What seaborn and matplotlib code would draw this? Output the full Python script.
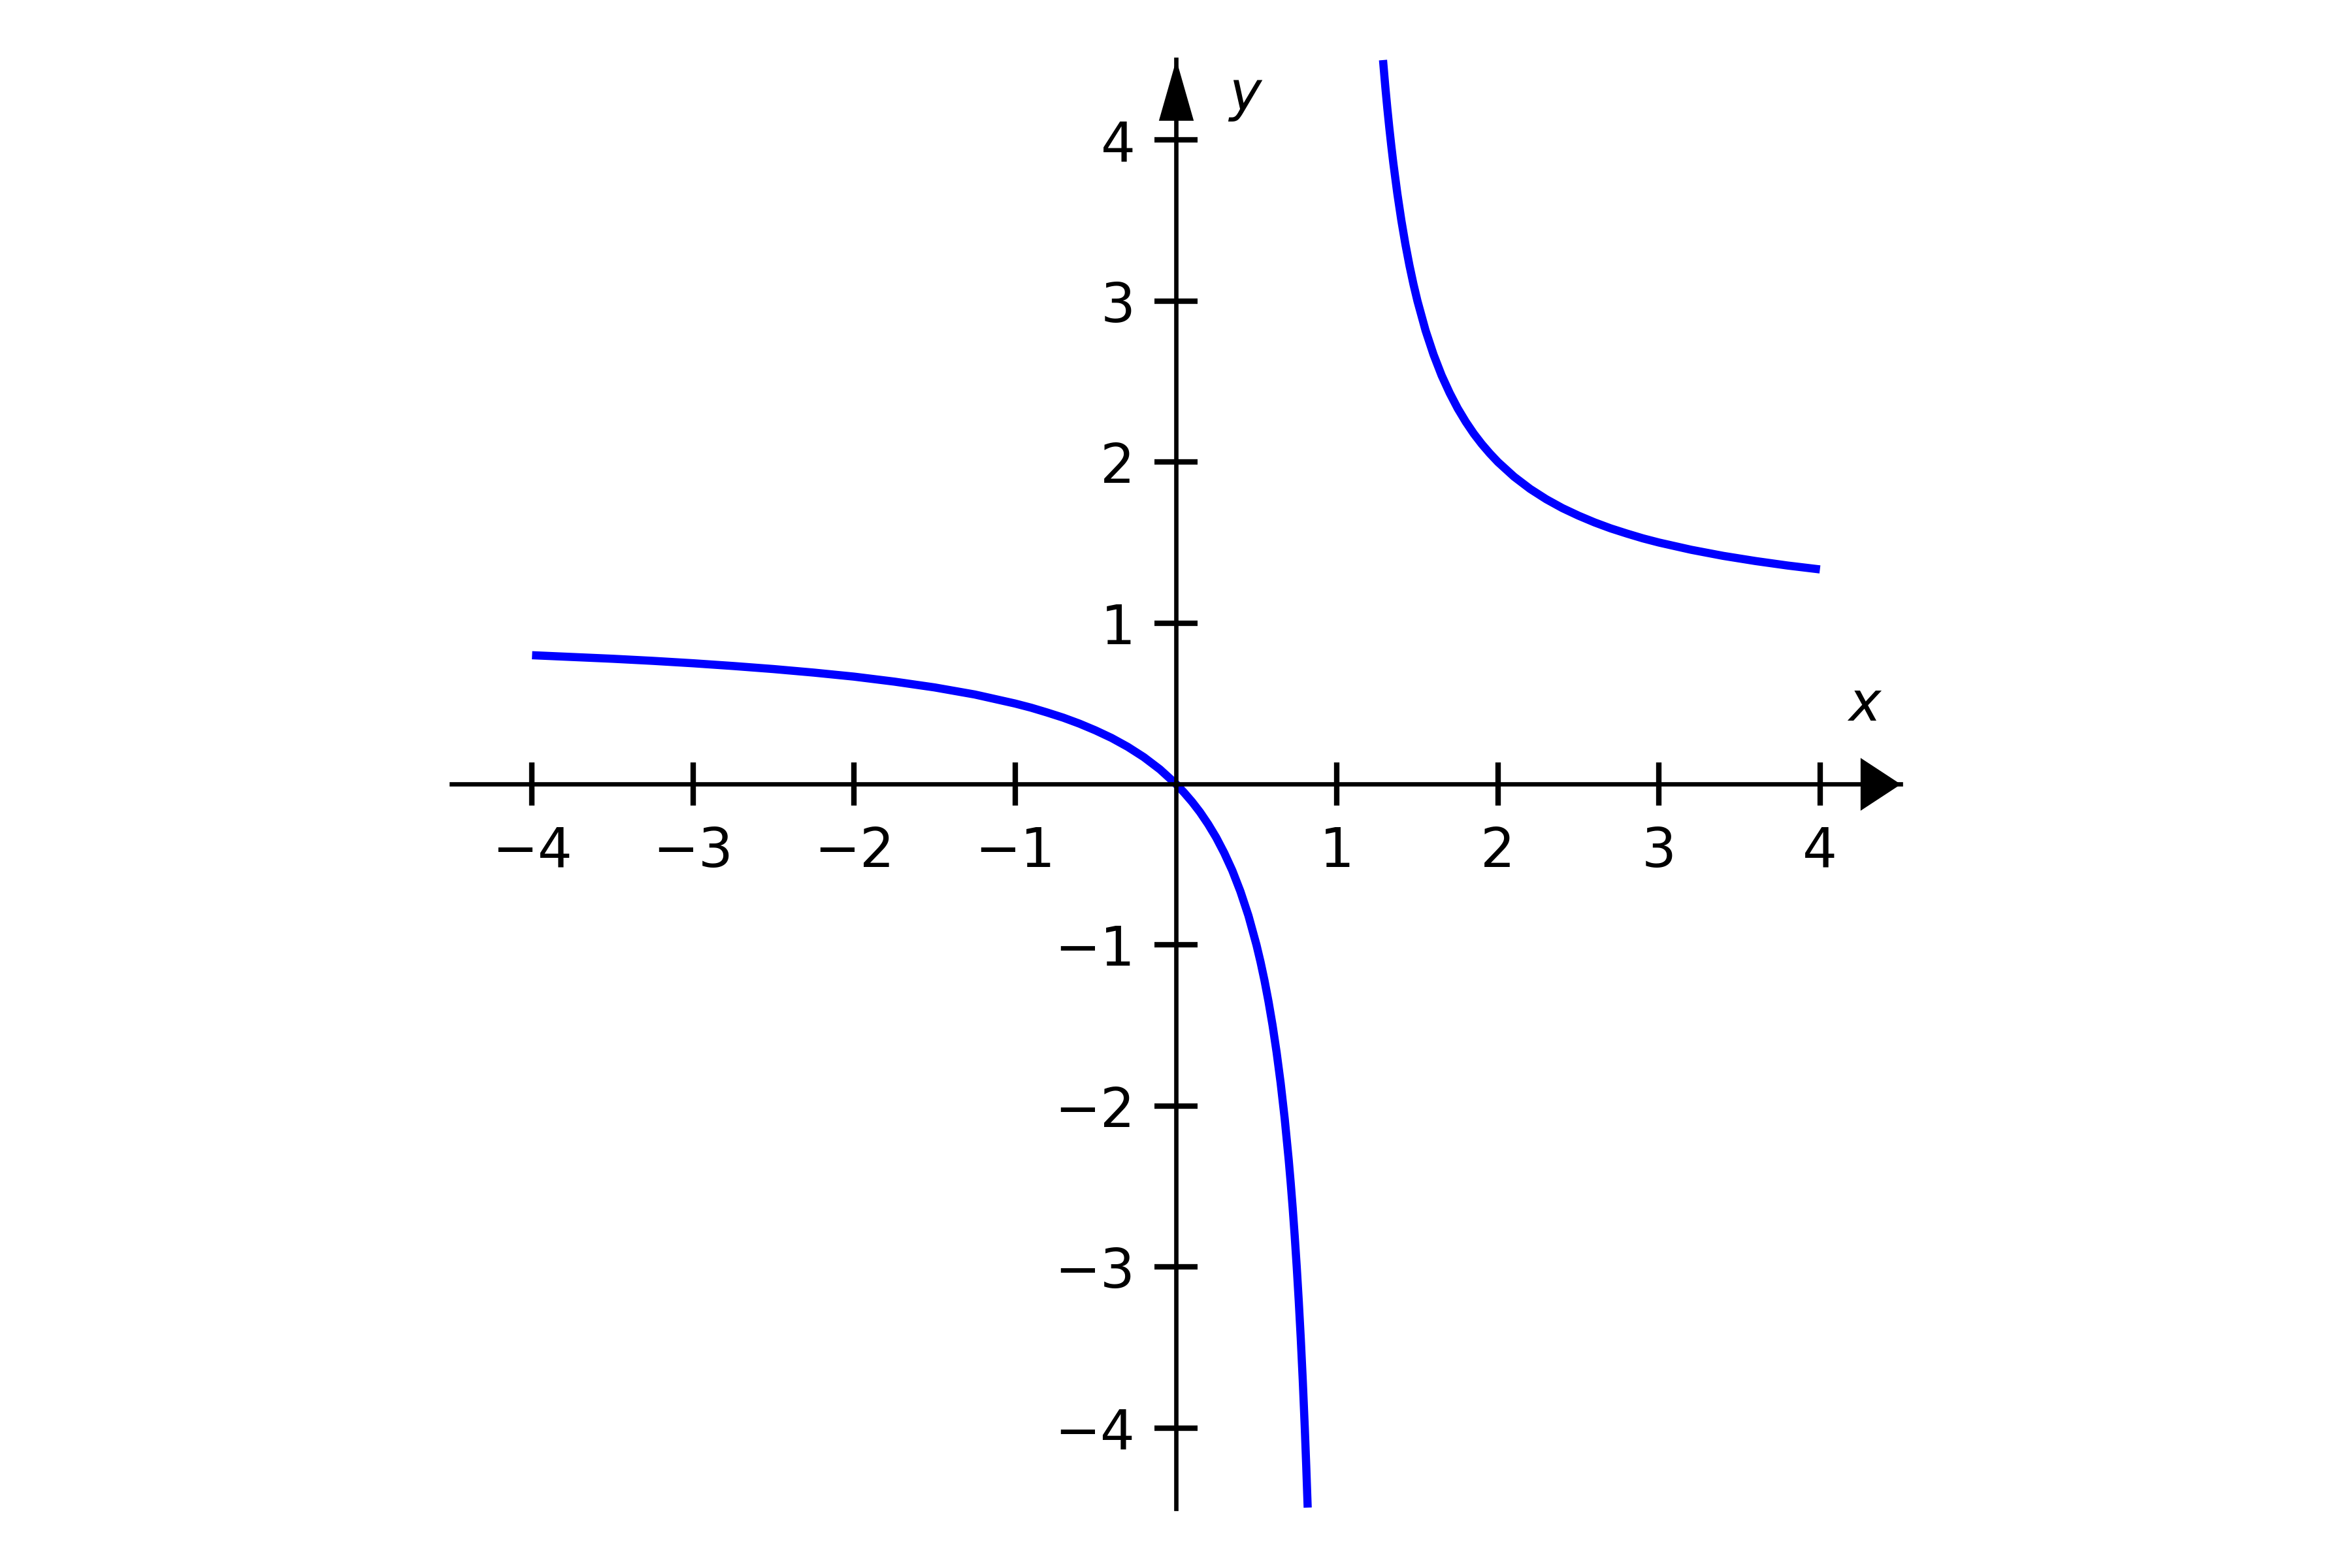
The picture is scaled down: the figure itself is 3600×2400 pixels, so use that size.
import matplotlib
matplotlib.use("Agg")
import matplotlib.pyplot as plt
import pandas as pd
import seaborn as sns

# Values (left branch, then right branch)
left_x = [-4.0, -3.75, -3.5, -3.25, -3.0, -2.75, -2.5, -2.25, -2.0, -1.75, -1.5, -1.25,
          -1.0, -0.9, -0.8, -0.7, -0.6, -0.5, -0.4, -0.3, -0.2, -0.1, 0.0,
          0.05, 0.1, 0.15, 0.2, 0.25, 0.3, 0.35, 0.4, 0.45, 0.5,
          0.525, 0.55, 0.575, 0.6, 0.625, 0.65, 0.675, 0.7, 0.7125, 0.725, 0.7375,
          0.75, 0.7625, 0.775, 0.7875, 0.8, 0.809, 0.818]
left_y = [0.800, 0.789, 0.778, 0.765, 0.750, 0.733, 0.714, 0.692, 0.667, 0.636, 0.600, 0.556,
          0.500, 0.474, 0.444, 0.412, 0.375, 0.333, 0.286, 0.231, 0.167, 0.091, 0.0,
          -0.053, -0.111, -0.176, -0.250, -0.333, -0.429, -0.538, -0.667, -0.818, -1.000,
          -1.105, -1.222, -1.353, -1.500, -1.667, -1.857, -2.077, -2.333, -2.478, -2.636, -2.810,
          -3.000, -3.211, -3.444, -3.706, -4.000, -4.236, -4.495]

right_x = [1.286, 1.3, 1.3125, 1.325, 1.3375, 1.35, 1.375, 1.4, 1.425, 1.45, 1.475, 1.5,
           1.55, 1.6, 1.65, 1.7, 1.75, 1.8, 1.85, 1.9, 1.95, 2.0,
           2.1, 2.2, 2.3, 2.4, 2.5, 2.6, 2.7, 2.8, 2.9, 3.0, 3.2, 3.4, 3.6, 3.8, 4.0]
right_y = [4.497, 4.333, 4.200, 4.077, 3.963, 3.857, 3.667, 3.500, 3.353, 3.222, 3.105, 3.000,
           2.818, 2.667, 2.538, 2.429, 2.333, 2.250, 2.176, 2.111, 2.053, 2.000,
           1.909, 1.833, 1.769, 1.714, 1.667, 1.625, 1.588, 1.556, 1.526, 1.500, 1.455, 1.417, 1.385, 1.357, 1.333]

tick_values = [-4, -3, -2, -1, 1, 2, 3, 4]

sns.set_style("ticks", {"axes.edgecolor": "black", "text.color": "black",
                        "xtick.color": "black", "ytick.color": "black"})
plt.rcParams["font.family"] = ["DejaVu Sans"]

df_left = pd.DataFrame({"x": left_x, "y": left_y})
df_right = pd.DataFrame({"x": right_x, "y": right_y})

fig, ax = plt.subplots(figsize=(6, 4), dpi=600)
fig.subplots_adjust(left=0, right=1, top=0.962, bottom=0.038)

for d in (df_left, df_right):
    sns.lineplot(data=d, x="x", y="y", sort=False, estimator=None, color="#0000ff",
                 lw=1.5, solid_capstyle="butt", solid_joinstyle="round", ax=ax)

ax.set_xlim(-4.5, 4.5)
ax.set_ylim(-4.5, 4.5)
ax.set_aspect("equal")

# axes through the origin
ax.spines["left"].set_position(("data", 0))
ax.spines["bottom"].set_position(("data", 0))
ax.spines["top"].set_visible(False)
ax.spines["right"].set_visible(False)
ax.spines["left"].set_linewidth(0.8)
ax.spines["bottom"].set_linewidth(0.8)

ax.set_xticks(tick_values)
ax.set_yticks(tick_values)
ax.tick_params(direction="inout", length=8, width=1, labelsize=10, pad=3.5)
ax.set_xlabel("")
ax.set_ylabel("")

# arrow heads at the ends of the axes
x_head = [(0, 0), (-7.4, 4.85), (-7.4, -4.85), (0, 0)]
y_head = [(0, 0), (3.2, -11.2), (-3.2, -11.2), (0, 0)]
ax.plot(1, 0, marker=x_head, ms=14.8, mew=0, color="black",
        transform=ax.get_yaxis_transform(), clip_on=False)
ax.plot(0, 1, marker=y_head, ms=22.4, mew=0, color="black",
        transform=ax.get_xaxis_transform(), clip_on=False)

ax.text(4.28, 0.49, "$x$", ha="center", va="center", fontsize=10)
ax.text(0.43, 4.27, "$y$", ha="center", va="center", fontsize=10)

fig.savefig("out.png", dpi=600)
